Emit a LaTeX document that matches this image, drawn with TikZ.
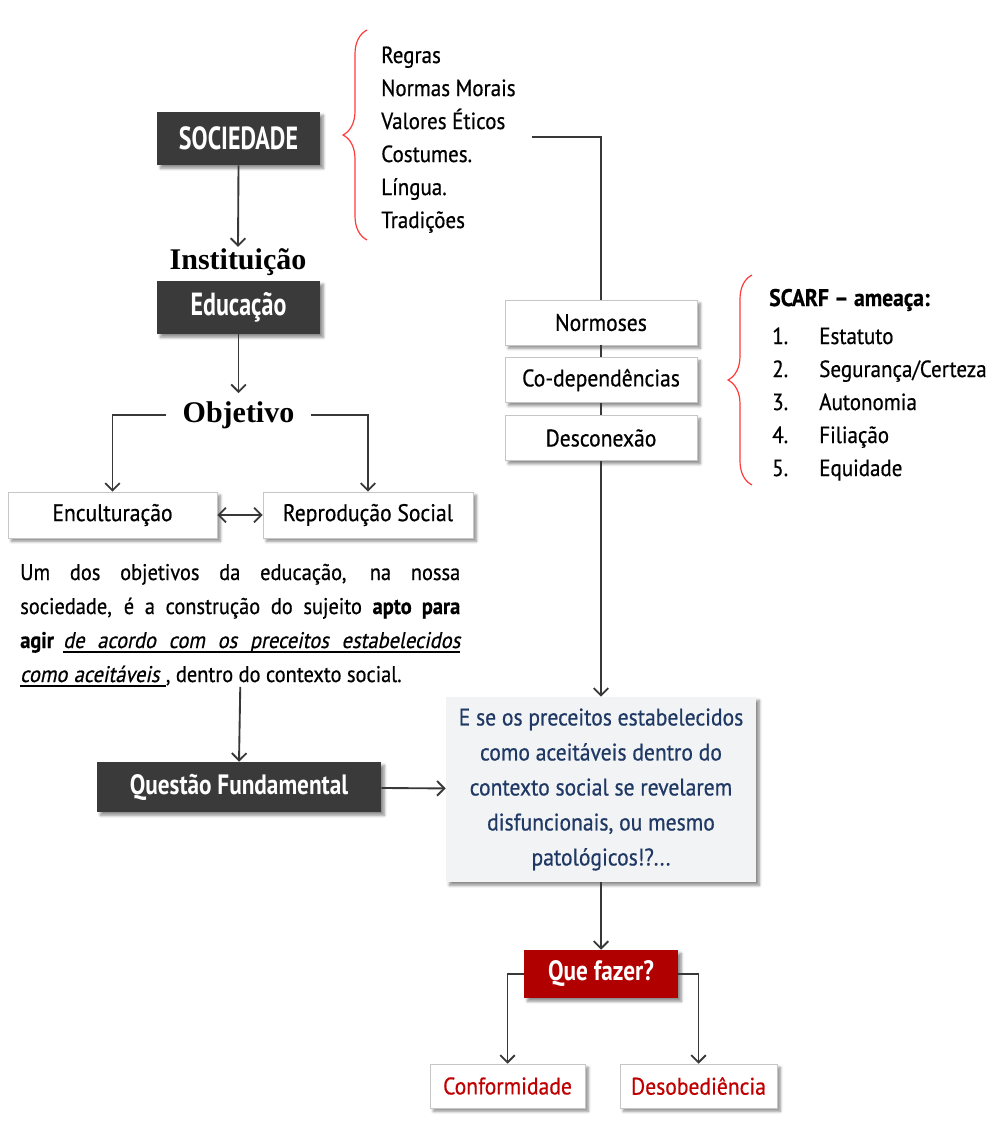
\documentclass[tikz,border=0pt]{standalone}
\usepackage{fontspec}
\setmainfont{PT Sans}[FakeStretch=0.9, FakeBold=0.6]
\newfontfamily\narrowfont{PT Sans}[FakeStretch=0.75]
\newfontfamily\titlefont{PT Sans}[FakeStretch=0.83]
\newfontfamily\obliquefont{PT Sans}[FakeStretch=0.9, FakeSlant=0.2, FakeBold=0.6]
\newfontfamily\headserif{Liberation Serif}
\usetikzlibrary{arrows.meta, positioning, shadows.blur,
                decorations.pathreplacing}
\definecolor{boxdark}{HTML}{3A3A3A}
\definecolor{boxred}{HTML}{B00000}
\definecolor{textred}{HTML}{C00000}
\definecolor{textnavy}{HTML}{1F3864}
\definecolor{questfill}{HTML}{F2F3F5}
\definecolor{linegray}{HTML}{383838}
\definecolor{bracered}{HTML}{FF3B3B}
% underlined oblique words with breakable underlined gaps
\newcommand\ulword[1]{\hbox{\setbox0\hbox{\obliquefont #1}\rlap{\vrule height -2.6pt depth 3.4pt width \wd0}\box0}}
\newcommand\ulgap{\leaders\hrule height -2.6pt depth 3.4pt\hskip 0.28em plus 0.2em minus 0.08em}
\tikzset{
  boxshadow/.style={
    blur shadow={shadow xshift=2.5pt, shadow yshift=-2.5pt,
                 shadow blur steps=6, shadow opacity=45}
  },
  darkbox/.style={
    rectangle, inner sep=0pt, fill=boxdark, text=white, boxshadow
  },
  whitebox/.style={
    rectangle, inner sep=0pt, draw=gray!45, fill=white,
    minimum height=34.5pt, font=\fontsize{18}{20}\selectfont, boxshadow
  },
  serifhead/.style={
    inner xsep=12pt, inner ysep=1pt,
    font=\headserif\bfseries\fontsize{22.5}{24}\selectfont
  },
  listtext/.style={
    anchor=base west, inner sep=0pt, font=\fontsize{17.5}{24.75}\selectfont
  },
  flowline/.style={draw=linegray, line width=1.4pt},
  flowarrow/.style={flowline, ->},
  redbrace/.style={
    draw=bracered, line width=0.9pt, decorate,
    decoration={brace, amplitude=18pt}
  },
}

\begin{document}
\begin{tikzpicture}[x=0.75pt, y=-0.75pt, >={Straight Barb[length=5.5pt, width=11pt]}]
    \useasboundingbox (0,0) rectangle (1005,1125);

    % left column
    \node[darkbox, minimum width=122.25pt, minimum height=39.75pt, font=\narrowfont\bfseries\fontsize{24}{26}\selectfont] (soc) at (238.5,138.5) {SOCIEDADE};
    \node[serifhead] (inst) at (238,262) {Instituição};
    \node[darkbox, minimum width=122.25pt, minimum height=39.75pt, font=\narrowfont\bfseries\fontsize{24}{26}\selectfont] (edu) at (238.5,307.5) {Educação};
    \node[serifhead, inner ysep=6pt] (obj) at (238.5,415) {Objetivo};
    \node[whitebox, minimum width=156.75pt] (enc) at (112.5,515) {Enculturação};
    \node[whitebox, minimum width=157.5pt]  (rep) at (368,515)   {Reprodução Social};
    \node[anchor=base west, inner sep=0pt, text width=330pt, align=justify, font=\fontsize{17}{25.5}\selectfont] (para) at (20,580)
        {Um dos objetivos da educação, na nossa\linebreak sociedade, é a construção do sujeito \textbf{apto para}\linebreak \textbf{agir} \ulword{de}\ulgap\ulword{acordo}\ulgap\ulword{com}\ulgap\ulword{os}\ulgap\ulword{preceitos}\ulgap\ulword{estabelecidos}\linebreak \ulword{como}\ulgap\ulword{aceitáveis}\ulgap, dentro do contexto social.};
    \node[darkbox, minimum width=213pt, minimum height=37.5pt, font=\titlefont\bfseries\fontsize{21}{24}\selectfont] (qf) at (239,787) {Questão Fundamental};

    % values list and brace
    \draw[redbrace] (367,240) -- (367,30);
    \node[listtext, align=left] (rules) at (381,228) {Regras\\Normas Morais\\Valores Éticos\\Costumes.\\Língua.\\Tradições};
    \coordinate (vstart) at (532,137);

    % right column
    \node[whitebox, minimum width=144pt, minimum height=33.75pt] (norm)  at (601,322.5) {Normoses};
    \node[whitebox, minimum width=144pt, minimum height=33.75pt] (codep) at (601,380)   {Co-dependências};
    \node[whitebox, minimum width=144pt, minimum height=33.75pt] (desc)  at (601,438)   {Desconexão};

    \draw[redbrace] (752,485) -- (752,275);
    \node[listtext, font=\bfseries\fontsize{18}{20}\selectfont] (scarf) at (769,306) {SCARF – ameaça:};
    \node[listtext] (threats) at (772,344)
        {\begin{tabular}[t]{@{}p{35.25pt}@{}l@{}}
         1. & Estatuto\\
         2. & Segurança/Certeza\\
         3. & Autonomia\\
         4. & Filiação\\
         5. & Equidade
         \end{tabular}};

    \node[rectangle, fill=questfill, text=textnavy, boxshadow, minimum width=232.5pt, minimum height=138.75pt, align=center, font=\fontsize{18}{26.25}\selectfont] (quest) at (601,789.5)
        {E se os preceitos estabelecidos\\como aceitáveis dentro do\\contexto social se revelarem\\disfuncionais, ou mesmo\\patológicos!?...};

    \node[darkbox, fill=boxred, minimum width=115.5pt, minimum height=36pt, font=\titlefont\bfseries\fontsize{21}{24}\selectfont] (que) at (601,974) {Que fazer?};
    \node[whitebox, text=textred, minimum width=116.25pt, minimum height=33pt] (conf) at (507.5,1086) {Conformidade};
    \node[whitebox, text=textred, minimum width=117.75pt, minimum height=33pt] (deso) at (698.5,1086) {Desobediência};

    % connectors
    \draw[flowarrow] (soc.south) -- (inst.north);
    \draw[flowarrow] (edu.south) -- (obj.north);
    \draw[flowarrow] (obj.west) -| (enc.north);
    \draw[flowarrow] (obj.east) -| (rep.north);
    \draw[flowline, <->] (enc) -- (rep);
    \draw[flowarrow] (para.south) -- (qf.north);
    \draw[flowarrow] (qf) -- (quest);
    \draw[flowline] (vstart) -| (norm.north);
    \draw[flowline] (norm) -- (codep);
    \draw[flowline] (codep) -- (desc);
    \draw[flowarrow] (desc) -- (quest);
    \draw[flowarrow] (quest) -- (que);
    \draw[flowarrow] (que.west) -| (conf.north);
    \draw[flowarrow] (que.east) -| (deso.north);
\end{tikzpicture}
\end{document}
